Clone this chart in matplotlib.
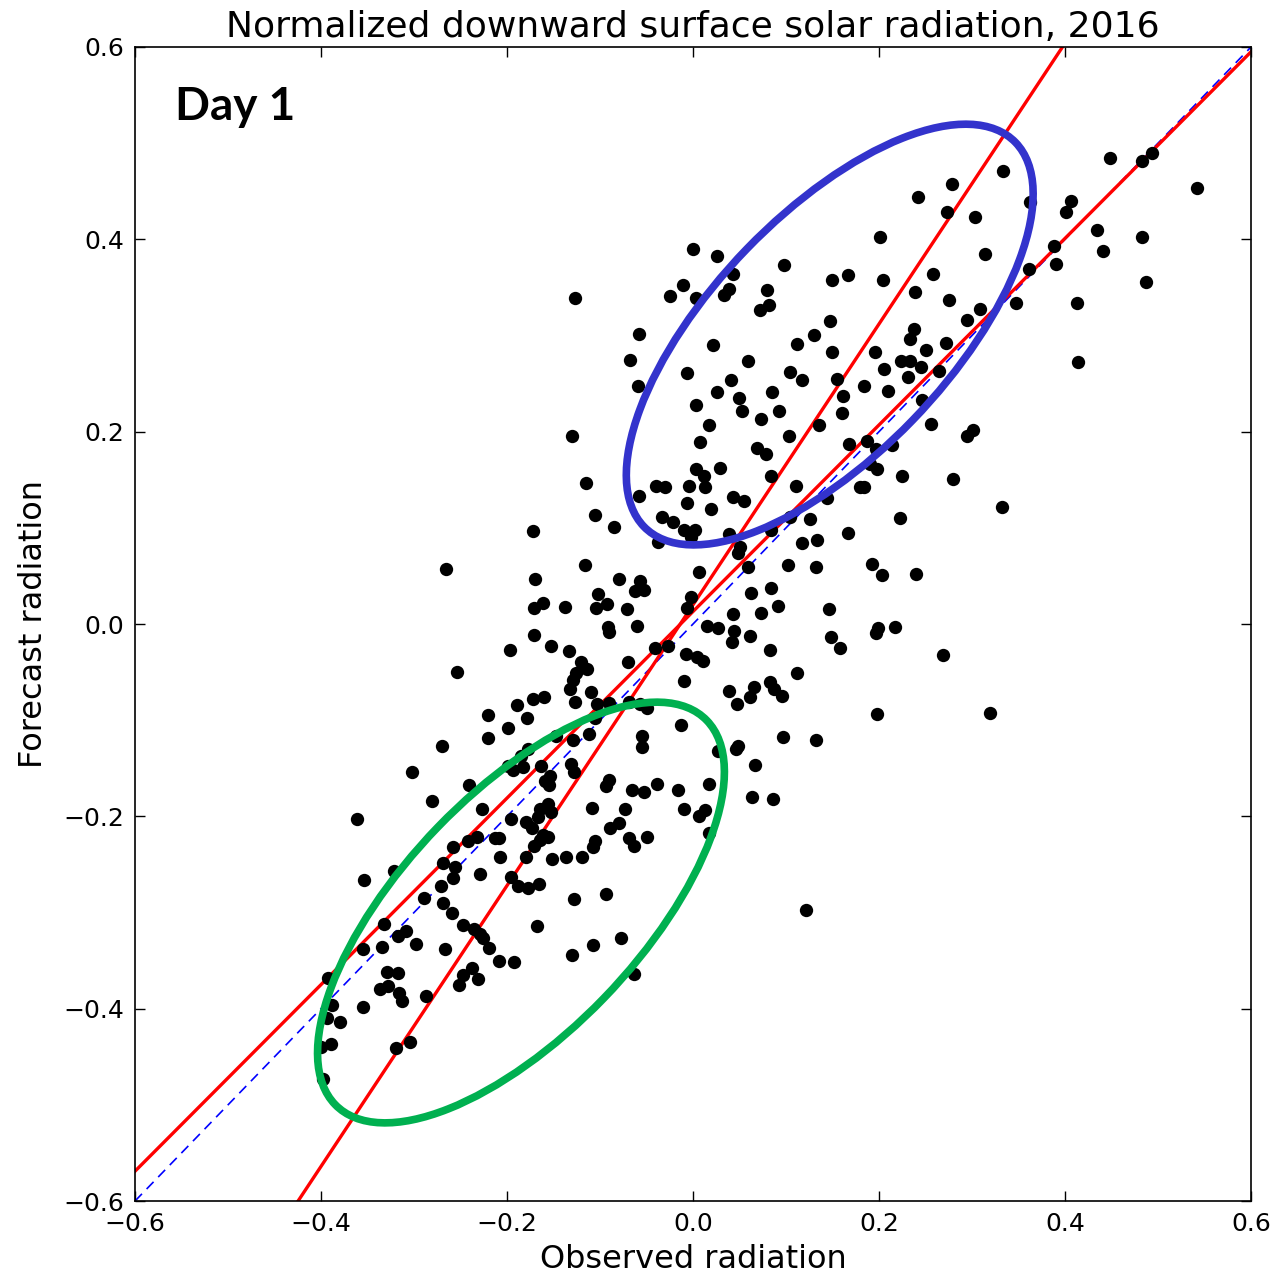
# coding: utf-8
import numpy as np
import matplotlib
matplotlib.use("Agg")
import matplotlib.pyplot as plt
from matplotlib.patches import Ellipse

# observed vs forecast normalized radiation, day-1 forecasts
observed = [
    0.201, 0.000, 0.026, 0.098, 0.043, -0.011, -0.025, 0.003, 0.039, 0.033, 0.149, 0.167,
    0.204, 0.080, 0.082, 0.072, -0.127, -0.058, -0.068, 0.022, 0.059, 0.147, 0.130, 0.112,
    0.149, 0.196, 0.205, 0.104, -0.006, 0.041, 0.117, 0.155,
    0.333, 0.278, 0.242, 0.273, 0.303, 0.362, 0.448, 0.494, 0.483, 0.542, 0.406, 0.401,
    0.434, 0.483, 0.388, 0.441, 0.314, 0.361, 0.390, 0.487, 0.258, 0.239, 0.275, 0.347,
    0.413, 0.309, 0.295, 0.238, 0.233, 0.272, 0.251, 0.224, 0.233, 0.245, 0.265, 0.231,
    0.414,
    -0.059, 0.026, 0.049, 0.085, 0.053, 0.092, 0.073, 0.003, 0.017, -0.130, 0.103, 0.008,
    0.069, 0.078, 0.135, 0.003, 0.012, 0.029, 0.084, -0.115, -0.040, -0.030, -0.004, 0.013,
    -0.058, 0.043, 0.055, 0.111, -0.006, 0.019, -0.105, -0.085, -0.033, -0.022, -0.010, 0.002,
    -0.002, -0.038, 0.039, 0.104, 0.126, 0.084, 0.051, 0.048, 0.117, 0.133, -0.172, -0.116,
    0.059, 0.102, 0.132, 0.006, -0.080, -0.057, -0.062, -0.053, -0.102, -0.002, 0.062, 0.084,
    -0.170, -0.161, -0.171, -0.138, -0.104, -0.092, -0.071, -0.006, 0.043, 0.073, 0.091, -0.266,
    0.184, 0.210, 0.161, 0.160, 0.246, 0.256, 0.301, 0.295, 0.168, 0.187, 0.197, 0.214,
    0.190, 0.198, 0.225, 0.280, 0.180, 0.184, 0.144, 0.223, 0.332, 0.167, 0.192, 0.203,
    0.240, 0.146,
    -0.091, -0.090, -0.060, -0.171, -0.197, -0.153, -0.133, -0.120, -0.114, -0.126, -0.129, -0.132,
    -0.070, -0.041, -0.027, -0.254, -0.110, -0.127, -0.103, -0.090, -0.069, -0.057, -0.049, -0.172,
    -0.160, -0.189, -0.220, -0.178, -0.105, -0.199, -0.220, -0.147, -0.129, -0.112, -0.055, -0.055,
    -0.013, -0.270, -0.177, -0.185, -0.199, -0.194, -0.183, -0.163, -0.131, -0.128, -0.154, -0.159,
    -0.155, -0.302, -0.241, -0.281, -0.090, -0.094, -0.066, -0.053, -0.039, -0.016, -0.227, -0.156,
    -0.165, -0.153, -0.167, -0.109, -0.073, -0.196, -0.180, -0.173, -0.080, -0.089, -0.232, -0.242,
    -0.213, -0.209, -0.161, -0.156, -0.165, -0.171, -0.105, -0.108, -0.069, -0.063, -0.049, -0.258,
    -0.119, -0.137, -0.152, -0.180,
    0.015, 0.027, 0.044, 0.042, 0.061, 0.083, 0.148, 0.158, 0.199, 0.197, 0.217, 0.269,
    -0.008, 0.004, 0.011, -0.010, 0.112, 0.039, 0.066, 0.083, 0.087, 0.096, 0.061, 0.047,
    0.198, 0.097, 0.132, 0.027, 0.048, 0.046, 0.067, 0.017, 0.063, 0.086, -0.010, 0.013,
    0.006, 0.017,
    -0.354, -0.322, -0.269, -0.256, -0.258, -0.229, -0.208, -0.196, -0.188, -0.177, -0.166, -0.128,
    -0.271, -0.289, -0.269, -0.259, -0.332, -0.317, -0.309, -0.334, -0.355, -0.298, -0.267, -0.247,
    -0.235, -0.229, -0.226, -0.219, -0.168, -0.209, -0.192, -0.130, -0.329, -0.317, -0.328, -0.337,
    -0.316, -0.313, -0.287, -0.355, -0.238, -0.247, -0.252, -0.231, -0.392, -0.388, -0.394, -0.380,
    -0.389, -0.400, -0.319, -0.304, -0.398,
    -0.094, 0.122, -0.077, -0.108, -0.063, -0.361, 0.319,
]

forecast = [
    0.402, 0.390, 0.383, 0.373, 0.364, 0.353, 0.341, 0.339, 0.348, 0.342, 0.358, 0.363,
    0.358, 0.347, 0.332, 0.327, 0.339, 0.302, 0.275, 0.290, 0.273, 0.315, 0.300, 0.291,
    0.283, 0.283, 0.265, 0.262, 0.261, 0.254, 0.254, 0.255,
    0.471, 0.458, 0.444, 0.428, 0.423, 0.439, 0.485, 0.490, 0.481, 0.453, 0.440, 0.428,
    0.410, 0.402, 0.393, 0.388, 0.385, 0.369, 0.374, 0.356, 0.364, 0.345, 0.337, 0.334,
    0.334, 0.328, 0.316, 0.307, 0.296, 0.292, 0.285, 0.274, 0.273, 0.267, 0.263, 0.257,
    0.272,
    0.247, 0.241, 0.235, 0.241, 0.221, 0.222, 0.213, 0.228, 0.207, 0.195, 0.195, 0.189,
    0.183, 0.177, 0.207, 0.161, 0.154, 0.162, 0.154, 0.147, 0.144, 0.142, 0.143, 0.142,
    0.133, 0.132, 0.128, 0.143, 0.126, 0.120, 0.113, 0.101, 0.111, 0.106, 0.098, 0.098,
    0.090, 0.085, 0.094, 0.111, 0.109, 0.098, 0.080, 0.074, 0.084, 0.087, 0.097, 0.061,
    0.059, 0.061, 0.059, 0.054, 0.047, 0.045, 0.034, 0.035, 0.031, 0.028, 0.032, 0.037,
    0.047, 0.022, 0.017, 0.018, 0.017, 0.021, 0.016, 0.017, 0.010, 0.011, 0.019, 0.057,
    0.247, 0.242, 0.237, 0.219, 0.233, 0.208, 0.202, 0.196, 0.187, 0.190, 0.182, 0.186,
    0.166, 0.161, 0.154, 0.151, 0.142, 0.142, 0.131, 0.110, 0.122, 0.095, 0.062, 0.051,
    0.052, 0.016,
    -0.003, -0.008, -0.002, -0.011, -0.027, -0.023, -0.028, -0.040, -0.047, -0.051, -0.058, -0.068,
    -0.040, -0.025, -0.023, -0.050, -0.071, -0.081, -0.083, -0.082, -0.081, -0.083, -0.087, -0.078,
    -0.076, -0.084, -0.095, -0.098, -0.098, -0.108, -0.119, -0.116, -0.121, -0.114, -0.116, -0.128,
    -0.105, -0.127, -0.130, -0.137, -0.148, -0.152, -0.149, -0.148, -0.146, -0.154, -0.158, -0.163,
    -0.167, -0.154, -0.167, -0.184, -0.162, -0.168, -0.173, -0.175, -0.166, -0.173, -0.192, -0.187,
    -0.192, -0.196, -0.201, -0.191, -0.192, -0.203, -0.206, -0.212, -0.207, -0.212, -0.221, -0.226,
    -0.223, -0.223, -0.219, -0.221, -0.225, -0.231, -0.226, -0.232, -0.223, -0.231, -0.221, -0.232,
    -0.242, -0.242, -0.244, -0.242,
    -0.002, -0.004, -0.007, -0.019, -0.012, -0.027, -0.014, -0.025, -0.004, -0.009, -0.003, -0.032,
    -0.031, -0.034, -0.038, -0.059, -0.051, -0.070, -0.065, -0.060, -0.068, -0.075, -0.076, -0.083,
    -0.094, -0.117, -0.121, -0.132, -0.127, -0.130, -0.147, -0.166, -0.180, -0.182, -0.192, -0.193,
    -0.200, -0.217,
    -0.266, -0.257, -0.249, -0.253, -0.264, -0.260, -0.242, -0.263, -0.272, -0.274, -0.270, -0.286,
    -0.272, -0.285, -0.290, -0.300, -0.312, -0.324, -0.319, -0.336, -0.338, -0.333, -0.338, -0.313,
    -0.317, -0.322, -0.326, -0.337, -0.314, -0.350, -0.351, -0.344, -0.362, -0.363, -0.376, -0.380,
    -0.384, -0.392, -0.387, -0.398, -0.358, -0.365, -0.375, -0.369, -0.368, -0.396, -0.410, -0.414,
    -0.437, -0.440, -0.441, -0.435, -0.473,
    -0.281, -0.297, -0.327, -0.334, -0.364, -0.203, -0.093,
]

# regression lines (forecast on observed, and observed on forecast)
fit_slopes = [0.97, 1.46]
fit_intercepts = [0.013, 0.020]

# highlighted clusters: centre (obs, fc)
cluster_centres = [(0.147, 0.301), (-0.185, -0.300)]
cluster_colors = ["#3333cc", "#00b050"]

ticks = [-0.6, -0.4, -0.2, 0.0, 0.2, 0.4, 0.6]

fig = plt.figure(figsize=(12.81, 12.77), dpi=100)
ax = fig.add_axes([0.1054, 0.0595, 0.8712, 0.9037])

ax.scatter(observed, forecast, s=92, c="k", linewidths=0, zorder=3)

xx = np.array([-0.6, 0.6])
ax.plot(xx, xx, "--", color="blue", lw=1.2, dashes=(6, 4), zorder=2)
for m, b in zip(fit_slopes, fit_intercepts):
    ax.plot(xx, m * xx + b, color="red", lw=2.4, zorder=2)

for (cx, cy), col in zip(cluster_centres, cluster_colors):
    ax.add_patch(Ellipse((cx, cy), width=0.565, height=0.252, angle=45,
                         fill=False, edgecolor=col, lw=5.5, zorder=4))

ax.set_xlim(-0.6, 0.6)
ax.set_ylim(-0.6, 0.6)
ax.set_xticks(ticks)
ax.set_yticks(ticks)
ax.tick_params(direction="in", top=True, right=True, length=7, width=1, labelsize=18, pad=8)
for sp in ax.spines.values():
    sp.set_linewidth(1.2)

ax.set_title("Normalized downward surface solar radiation, 2016", fontsize=26, pad=7)
ax.set_xlabel("Observed radiation", fontsize=23, labelpad=6)
ax.set_ylabel("Forecast radiation", fontsize=23, labelpad=10)

ax.text(0.036, 0.937, "Day 1", transform=ax.transAxes, fontsize=33,
        fontweight="bold", family="Lato", va="baseline", ha="left")

fig.savefig("out.png", dpi=100)
